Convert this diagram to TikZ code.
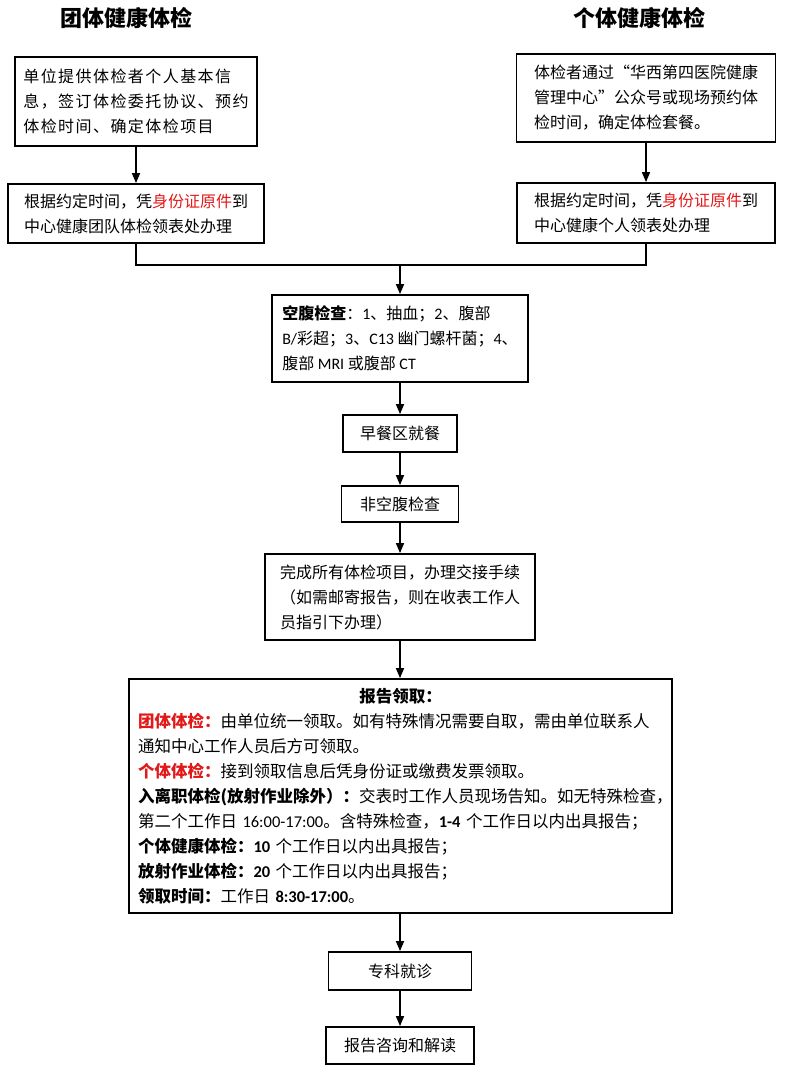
\documentclass[tikz,border=0pt]{standalone}
\usepackage{fontspec}
\setmainfont{Noto Sans CJK SC}
\newfontfamily\en{Carlito}
\usetikzlibrary{arrows.meta}
\definecolor{idred}{RGB}{225,25,25}
\newcommand{\hl}[1]{\textcolor{idred}{#1}}
\newcommand{\lat}[1]{{\en #1}}

\begin{document}
\begin{tikzpicture}[x=1pt, y=-1pt,
		box/.style = {draw, line width=1.8pt, inner sep=0pt, align=left, font=\fontsize{16}{25}\selectfont},
		arr/.style = {line width=1.5pt, -{Triangle[length=10pt,width=8pt]}},
		title/.style = {font=\fontsize{22}{22}\selectfont\bfseries}]
		\useasboundingbox (0,0) rectangle (792,1071);
		% two entries
		\node[title] (tgroup) at (126,18) {团体健康体检};
		\node[title] (tsingle) at (639,18) {个体健康体检};
		\node[box, minimum width=242pt, minimum height=89pt] (gbook) at (136,101.5)
			{\addfontfeature{LetterSpace=9}单位提供体检者个人基本信\\\addfontfeature{LetterSpace=9}息，签订体检委托协议、预约\\\addfontfeature{LetterSpace=9}体检时间、确定体检项目};
		\node[box, minimum width=256pt, minimum height=59pt] (gform) at (136,213.5)
			{根据约定时间，凭\hl{身份证原件}到\\中心健康团队体检领表处办理};
		\node[box, minimum width=259pt, minimum height=88pt] (sbook) at (646,98)
			{体检者通过“华西第四医院健康\\管理中心”公众号或现场预约体\\检时间，确定体检套餐。};
		\node[box, minimum width=258pt, minimum height=60pt] (sform) at (646,213)
			{根据约定时间，凭\hl{身份证原件}到\\中心健康个人领表处办理};
		% common path
		\node[box, minimum width=256pt, minimum height=87pt] (fast) at (400,338.5)
			{\textbf{空腹检查}：\lat{1}、抽血；\lat{2}、腹部\\\lat{B/}彩超；\lat{3}、\lat{C13} 幽门螺杆菌；\lat{4}、\\腹部 \lat{MRI} 或腹部 \lat{CT}};
		\node[box, minimum width=114pt, minimum height=37pt] (meal) at (400,433.5) {早餐区就餐};
		\node[box, minimum width=117pt, minimum height=36pt] (other) at (400,504) {非空腹检查};
		\node[box, minimum width=270pt, minimum height=86pt] (hand) at (400,597)
			{完成所有体检项目，办理交接手续\\（如需邮寄报告，则在收表工作人\\员指引下办理）};
		\node[box, minimum width=543pt, minimum height=234pt, text width=525pt,
			font=\fontsize{16.5}{25}\selectfont] (report) at (400.5,796)
			{{\centering\bfseries 报告领取：\par}
			\hl{\bfseries 团体体检：}由单位统一领取。如有特殊情况需要自取，需由单位联系人\\
			通知中心工作人员后方可领取。\\
			\hl{\bfseries 个体体检：}接到领取信息后凭身份证或缴费发票领取。\\
			{\bfseries 入离职体检(放射作业除外）：}交表时工作人员现场告知。如无特殊检查，\\
			第二个工作日 \lat{16:00-17:00}。含特殊检查，\lat{\bfseries 1-4} 个工作日以内出具报告；\\
			{\bfseries 个体健康体检：}\lat{\bfseries 10} 个工作日以内出具报告；\\
			{\bfseries 放射作业体检：}\lat{\bfseries 20} 个工作日以内出具报告；\\
			{\bfseries 领取时间：}工作日 \lat{\bfseries 8:30-17:00}。};
		\node[box, minimum width=143pt, minimum height=38pt] (clinic) at (400,971) {专科就诊};
		\node[box, minimum width=148pt, minimum height=37pt] (consult) at (400,1045.5) {报告咨询和解读};
		\coordinate (merge) at (400,265);
		% connectors
		\draw[arr] (gbook) -- (gform);
		\draw[arr] (sbook) -- (sform);
		\draw[line width=1.5pt] (gform.south) |- (merge) -| (sform.south);
		\draw[arr] (merge) -- (fast);
		\draw[arr] (fast) -- (meal);
		\draw[arr] (meal) -- (other);
		\draw[arr] (other) -- (hand);
		\draw[arr] (hand) -- (report.north -| hand.south);
		\draw[arr] (report.south -| clinic.north) -- (clinic);
		\draw[arr] (clinic) -- (consult);
	\end{tikzpicture}
\end{document}
